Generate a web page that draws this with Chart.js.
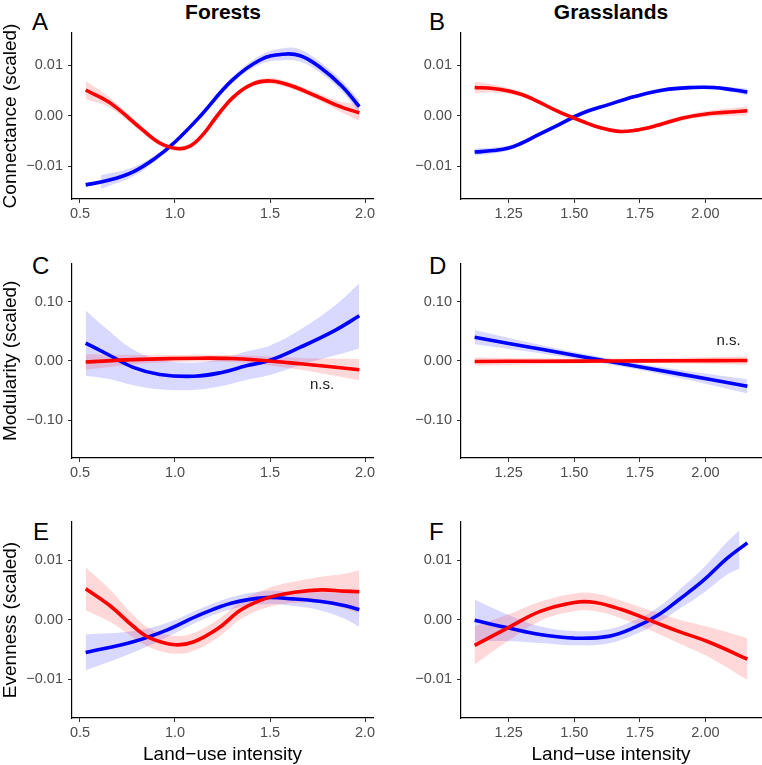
<!DOCTYPE html>
<html>
<head>
<meta charset="utf-8">
<script src="https://cdn.jsdelivr.net/npm/chart.js@4.4.1/dist/chart.umd.min.js"></script>
<style>
  body { margin: 0; background: #fff; }
  #wrap { position: relative; width: 762px; height: 765px; font-family: "Liberation Sans", Arial, Helvetica, sans-serif; }
  canvas { position: absolute; }
  .letter { position: absolute; font-size: 24px; line-height: 1; color: #000; }
  .coltitle { position: absolute; font-size: 21px; font-weight: bold; line-height: 1; color: #000; transform: translateX(-50%); white-space: nowrap; }
</style>
</head>
<body>
<div id="wrap">
  <div class="coltitle" style="left:223px; top:1px;">Forests</div>
  <div class="coltitle" style="left:611px; top:1px;">Grasslands</div>
  <div class="letter" style="left:32px; top:10px;">A</div>
  <div class="letter" style="left:429px; top:10px;">B</div>
  <div class="letter" style="left:32px; top:254px;">C</div>
  <div class="letter" style="left:429px; top:254px;">D</div>
  <div class="letter" style="left:33px; top:520px;">E</div>
  <div class="letter" style="left:429px; top:520px;">F</div>
  <canvas id="pA" width="381" height="250" style="left:0; top:0;"></canvas>
  <canvas id="pB" width="381" height="250" style="left:381px; top:0;"></canvas>
  <canvas id="pC" width="381" height="250" style="left:0; top:250px;"></canvas>
  <canvas id="pD" width="381" height="250" style="left:381px; top:250px;"></canvas>
  <canvas id="pE" width="381" height="265" style="left:0; top:500px;"></canvas>
  <canvas id="pF" width="381" height="265" style="left:381px; top:500px;"></canvas>
</div>
<script>
// ---- tick values / labels ----
const forestTicks = [0.5, 1.0, 1.5, 2.0];
const forestTickLabels = ['0.5', '1.0', '1.5', '2.0'];
const grassTicks = [1.25, 1.5, 1.75, 2.0];
const grassTickLabels = ['1.25', '1.50', '1.75', '2.00'];
const smallTicks = [-0.01, 0, 0.01];
const smallTickLabels = ['\u22120.01', '0.00', '0.01'];
const modTicks = [-0.1, 0, 0.1];
const modTickLabels = ['\u22120.10', '0.00', '0.10'];

// ---- A: connectance, forests ----
const aBlueX  = [0.53, 0.65, 0.78, 0.9, 1.0, 1.13, 1.3, 1.45, 1.57, 1.66, 1.76, 1.88, 1.97];
const aBlueY  = [-0.0137, -0.0128, -0.0111, -0.0083, -0.0052, -0.0002, 0.0070, 0.0111, 0.0122, 0.0119, 0.0097, 0.0058, 0.0018];
const aBlueBX = [0.61, 0.78, 0.9, 1.0, 1.13, 1.3, 1.45, 1.57, 1.66, 1.76, 1.88, 1.97];
const aBlueHi = [-0.0118, -0.0102, -0.0077, -0.0047, 0.0003, 0.0076, 0.0120, 0.0134, 0.0131, 0.0108, 0.0069, 0.0031];
const aBlueLo = [-0.0145, -0.0120, -0.0089, -0.0057, -0.0007, 0.0064, 0.0102, 0.0110, 0.0107, 0.0086, 0.0047, 0.0005];
const aRedX  = [0.53, 0.66, 0.82, 0.92, 1.01, 1.08, 1.15, 1.22, 1.31, 1.41, 1.5, 1.6, 1.75, 1.87, 1.97];
const aRedY  = [0.0051, 0.0025, -0.0025, -0.0054, -0.0065, -0.0060, -0.0036, -0.0001, 0.0038, 0.0063, 0.0069, 0.0061, 0.0038, 0.0018, 0.0006];
const aRedHi = [0.0069, 0.0035, -0.0019, -0.0049, -0.0060, -0.0055, -0.0031, 0.0004, 0.0043, 0.0068, 0.0075, 0.0067, 0.0045, 0.0028, 0.0022];
const aRedLo = [0.0033, 0.0015, -0.0031, -0.0059, -0.0070, -0.0065, -0.0041, -0.0006, 0.0033, 0.0058, 0.0063, 0.0055, 0.0031, 0.0008, -0.0010];

// ---- B: connectance, grasslands ----
const bBlueX  = [1.12, 1.19, 1.25, 1.3, 1.35, 1.44, 1.53, 1.63, 1.73, 1.84, 1.95, 2.03, 2.11, 2.16];
const bBlueY  = [-0.0072, -0.0069, -0.0064, -0.0054, -0.0041, -0.0018, 0.0005, 0.0022, 0.0038, 0.0051, 0.0056, 0.0056, 0.0051, 0.0047];
const bBlueHi = [-0.0065, -0.0063, -0.0059, -0.0050, -0.0037, -0.0015, 0.0008, 0.0025, 0.0041, 0.0055, 0.0060, 0.0060, 0.0056, 0.0054];
const bBlueLo = [-0.0079, -0.0075, -0.0069, -0.0058, -0.0045, -0.0021, 0.0002, 0.0019, 0.0035, 0.0047, 0.0052, 0.0052, 0.0046, 0.0040];
const bRedX  = [1.12, 1.19, 1.25, 1.3, 1.35, 1.44, 1.53, 1.6, 1.67, 1.73, 1.81, 1.91, 2.01, 2.11, 2.16];
const bRedY  = [0.0056, 0.0054, 0.0049, 0.0042, 0.0031, 0.0008, -0.0011, -0.0024, -0.0031, -0.0029, -0.0020, -0.0005, 0.0004, 0.0008, 0.0010];
const bRedHi = [0.0068, 0.0062, 0.0055, 0.0047, 0.0035, 0.0012, -0.0008, -0.0021, -0.0028, -0.0026, -0.0016, 0.0000, 0.0010, 0.0016, 0.0019];
const bRedLo = [0.0044, 0.0046, 0.0043, 0.0037, 0.0027, 0.0004, -0.0014, -0.0027, -0.0034, -0.0032, -0.0024, -0.0010, -0.0002, 0.0000, 0.0001];

// ---- C: modularity, forests ----
const cBlueX  = [0.53, 0.64, 0.78, 0.92, 1.1, 1.24, 1.38, 1.5, 1.66, 1.84, 1.97];
const cBlueY  = [0.030, 0.012, -0.011, -0.023, -0.026, -0.020, -0.008, 0.001, 0.023, 0.051, 0.076];
const cBlueHi = [0.085, 0.054, 0.019, 0.002, -0.003, 0.003, 0.016, 0.026, 0.053, 0.093, 0.131];
const cBlueLo = [-0.025, -0.030, -0.041, -0.048, -0.049, -0.043, -0.032, -0.024, -0.007, 0.009, 0.021];
const cRedX  = [0.53, 0.78, 1.0, 1.13, 1.3, 1.45, 1.66, 1.82, 1.97];
const cRedY  = [-0.002, 0.002, 0.004, 0.0045, 0.004, 0.001, -0.005, -0.010, -0.015];
const cRedHi = [0.011, 0.010, 0.010, 0.0105, 0.010, 0.008, 0.005, 0.004, 0.003];
const cRedLo = [-0.015, -0.006, -0.002, -0.0015, -0.002, -0.006, -0.015, -0.024, -0.033];

// ---- D: modularity, grasslands ----
const dX      = [1.12, 1.38, 1.64, 1.9, 2.16];
const dBlueY  = [0.040, 0.019, -0.0015, -0.022, -0.043];
const dBlueHi = [0.052, 0.026, 0.0035, -0.015, -0.031];
const dBlueLo = [0.028, 0.012, -0.0065, -0.029, -0.055];
const dRedY  = [-0.001, -0.0006, -0.0002, 0.0002, 0.0006];
const dRedHi = [0.006, 0.0044, 0.0038, 0.0052, 0.0076];
const dRedLo = [-0.008, -0.0056, -0.0042, -0.0048, -0.0064];

// ---- E: evenness, forests ----
const eBlueX  = [0.53, 0.78, 0.96, 1.13, 1.3, 1.48, 1.62, 1.76, 1.89, 1.97];
const eBlueY  = [-0.0055, -0.0037, -0.0017, 0.0008, 0.0028, 0.0037, 0.0035, 0.0031, 0.0024, 0.0017];
const eBlueHi = [-0.0025, -0.0019, -0.0005, 0.0018, 0.0038, 0.0048, 0.0047, 0.0046, 0.0046, 0.0046];
const eBlueLo = [-0.0085, -0.0055, -0.0029, -0.0002, 0.0018, 0.0026, 0.0023, 0.0016, 0.0002, -0.0012];
const eRedX  = [0.53, 0.66, 0.78, 0.87, 1.0, 1.1, 1.23, 1.35, 1.49, 1.63, 1.77, 1.89, 1.97];
const eRedY  = [0.0052, 0.0023, -0.0011, -0.0031, -0.0042, -0.0037, -0.0014, 0.0017, 0.0037, 0.0046, 0.0050, 0.0048, 0.0047];
const eRedHi = [0.0088, 0.0050, 0.0008, -0.0015, -0.0027, -0.0022, 0.0001, 0.0032, 0.0053, 0.0064, 0.0072, 0.0077, 0.0083];
const eRedLo = [0.0016, -0.0004, -0.0030, -0.0047, -0.0057, -0.0052, -0.0029, 0.0002, 0.0021, 0.0028, 0.0028, 0.0019, 0.0011];

// ---- F: evenness, grasslands ----
const fBlueX  = [1.12, 1.25, 1.37, 1.5, 1.63, 1.73, 1.82, 1.9, 1.99, 2.08, 2.16];
const fBlueY  = [-0.0001, -0.0014, -0.0025, -0.0031, -0.0028, -0.0013, 0.0008, 0.0034, 0.0065, 0.0102, 0.0129];
const fBlueBX = [1.12, 1.25, 1.37, 1.5, 1.63, 1.73, 1.82, 1.9, 1.99, 2.08, 2.13];
const fBlueHi = [0.0034, 0.0008, -0.0011, -0.0019, -0.0016, -0.0001, 0.0021, 0.0050, 0.0086, 0.0129, 0.0150];
const fBlueLo = [-0.0036, -0.0036, -0.0039, -0.0043, -0.0040, -0.0025, -0.0005, 0.0018, 0.0044, 0.0075, 0.0086];
const fRedX  = [1.12, 1.25, 1.37, 1.5, 1.58, 1.68, 1.8, 1.9, 2.01, 2.16];
const fRedY  = [-0.0043, -0.0013, 0.0014, 0.0029, 0.0029, 0.0017, -0.0003, -0.0020, -0.0037, -0.0066];
const fRedHi = [-0.0011, 0.0009, 0.0030, 0.0044, 0.0044, 0.0032, 0.0014, 0.0000, -0.0012, -0.0031];
const fRedLo = [-0.0075, -0.0035, -0.0002, 0.0014, 0.0014, 0.0002, -0.0020, -0.0040, -0.0062, -0.0101];

const FONT = '"Liberation Sans", Arial, Helvetica, sans-serif';
const BLUE = '#0000FF';
const RED = '#FF0000';

function pts(xs, ys) {
    return xs.map((x, i) => ({ x: x, y: ys[i] }));
}

// draws the "n.s." notes in data coordinates
const notePlugin = {
    id: 'note',
    afterDatasetsDraw(chart, args, opts) {
        if (!opts || !opts.text) return;
        const ctx = chart.ctx;
        ctx.save();
        ctx.font = '15px ' + FONT;
        ctx.fillStyle = '#1a1a1a';
        ctx.textAlign = 'center';
        ctx.textBaseline = 'middle';
        ctx.fillText(opts.text, chart.scales.x.getPixelForValue(opts.x), chart.scales.y.getPixelForValue(opts.y));
        ctx.restore();
    }
};

function lineSet(data, color, order) {
    return { data: data, borderColor: color, borderWidth: 3.6, pointRadius: 0, fill: false,
             tension: 0.4, order: order };
}
function bandSet(data, color, fill, order) {
    return { data: data, borderWidth: 0, borderColor: 'rgba(0,0,0,0)', backgroundColor: color,
             pointRadius: 0, fill: fill, tension: 0.4, order: order };
}

function makePanel(id, p) {
    const datasets = [
        lineSet(p.red, RED, 0),
        lineSet(p.blue, BLUE, 1),
        bandSet(p.redHi, 'rgba(255,0,0,0.15)', '+1', 2),
        bandSet(p.redLo, 'rgba(0,0,0,0)', false, 3),
        bandSet(p.blueHi, 'rgba(0,0,255,0.15)', '+1', 4),
        bandSet(p.blueLo, 'rgba(0,0,0,0)', false, 5)
    ];
    const tickGrid = { display: true, drawOnChartArea: false, drawTicks: true, tickLength: 4, tickColor: '#333', tickWidth: 1 };
    new Chart(document.getElementById(id).getContext('2d'), {
        type: 'line',
        data: { datasets: datasets },
        plugins: [notePlugin],
        options: {
            responsive: false,
            animation: false,
            devicePixelRatio: 1,
            layout: { padding: p.padding },
            plugins: {
                legend: { display: false },
                tooltip: { enabled: false },
                note: p.note || {}
            },
            scales: {
                x: {
                    type: 'linear',
                    min: p.xMin, max: p.xMax,
                    grid: tickGrid,
                    border: { display: true, color: '#000', width: 1.2 },
                    afterBuildTicks: s => { s.ticks = p.xTicks.map(v => ({ value: v })); },
                    afterFit: s => { s.height = p.xHeight; },
                    ticks: {
                        color: '#4d4d4d', padding: 2, maxRotation: 0,
                        font: { family: FONT, size: 14.5 },
                        callback: v => p.xLabels[p.xTicks.indexOf(v)]
                    },
                    title: {
                        display: !!p.xTitle, text: p.xTitle || '', color: '#000', padding: 0,
                        font: { family: FONT, size: 19, lineHeight: 1.1 }
                    }
                },
                y: {
                    type: 'linear',
                    min: p.yMin, max: p.yMax,
                    grid: tickGrid,
                    border: { display: true, color: '#000', width: 1.2 },
                    afterBuildTicks: s => { s.ticks = p.yTicks.map(v => ({ value: v })); },
                    afterFit: s => { s.width = p.yWidth; },
                    ticks: {
                        color: '#4d4d4d', padding: 5,
                        font: { family: FONT, size: 14.5 },
                        callback: v => p.yLabels[p.yTicks.indexOf(v)]
                    },
                    title: {
                        display: !!p.yTitle, text: p.yTitle || '', color: '#000', padding: 0,
                        font: { family: FONT, size: 19, lineHeight: 1.1 }
                    }
                }
            }
        }
    });
}

const forestX = { xMin: 0.458, xMax: 2.042, xTicks: forestTicks, xLabels: forestTickLabels, yWidth: 72 };
const grassX = { xMin: 1.068, xMax: 2.212, xTicks: grassTicks, xLabels: grassTickLabels, yWidth: 80 };
const smallY = { yMin: -0.0165, yMax: 0.0164, yTicks: smallTicks, yLabels: smallTickLabels };
const modY = { yMin: -0.164, yMax: 0.164, yTicks: modTicks, yLabels: modTickLabels };

makePanel('pA', Object.assign({}, forestX, smallY, {
    padding: { top: 33, right: 8, left: 0, bottom: 0 }, xHeight: 51,
    yTitle: 'Connectance (scaled)',
    blue: pts(aBlueX, aBlueY), blueHi: pts(aBlueBX, aBlueHi), blueLo: pts(aBlueBX, aBlueLo),
    red: pts(aRedX, aRedY), redHi: pts(aRedX, aRedHi), redLo: pts(aRedX, aRedLo)
}));
makePanel('pB', Object.assign({}, grassX, smallY, {
    padding: { top: 33, right: 1, left: 0, bottom: 0 }, xHeight: 51,
    blue: pts(bBlueX, bBlueY), blueHi: pts(bBlueX, bBlueHi), blueLo: pts(bBlueX, bBlueLo),
    red: pts(bRedX, bRedY), redHi: pts(bRedX, bRedHi), redLo: pts(bRedX, bRedLo)
}));
makePanel('pC', Object.assign({}, forestX, modY, {
    padding: { top: 13, right: 8, left: 0, bottom: 0 }, xHeight: 42,
    yTitle: 'Modularity (scaled)',
    note: { text: 'n.s.', x: 1.774, y: -0.041 },
    blue: pts(cBlueX, cBlueY), blueHi: pts(cBlueX, cBlueHi), blueLo: pts(cBlueX, cBlueLo),
    red: pts(cRedX, cRedY), redHi: pts(cRedX, cRedHi), redLo: pts(cRedX, cRedLo)
}));
makePanel('pD', Object.assign({}, grassX, modY, {
    padding: { top: 13, right: 1, left: 0, bottom: 0 }, xHeight: 42,
    note: { text: 'n.s.', x: 2.088, y: 0.033 },
    blue: pts(dX, dBlueY), blueHi: pts(dX, dBlueHi), blueLo: pts(dX, dBlueLo),
    red: pts(dX, dRedY), redHi: pts(dX, dRedHi), redLo: pts(dX, dRedLo)
}));
makePanel('pE', Object.assign({}, forestX, smallY, {
    padding: { top: 22, right: 8, left: 0, bottom: 0 }, xHeight: 47,
    yTitle: 'Evenness (scaled)', xTitle: 'Land\u2212use intensity',
    blue: pts(eBlueX, eBlueY), blueHi: pts(eBlueX, eBlueHi), blueLo: pts(eBlueX, eBlueLo),
    red: pts(eRedX, eRedY), redHi: pts(eRedX, eRedHi), redLo: pts(eRedX, eRedLo)
}));
makePanel('pF', Object.assign({}, grassX, smallY, {
    padding: { top: 22, right: 1, left: 0, bottom: 0 }, xHeight: 47,
    xTitle: 'Land\u2212use intensity',
    blue: pts(fBlueX, fBlueY), blueHi: pts(fBlueBX, fBlueHi), blueLo: pts(fBlueBX, fBlueLo),
    red: pts(fRedX, fRedY), redHi: pts(fRedX, fRedHi), redLo: pts(fRedX, fRedLo)
}));
</script>
</body>
</html>
